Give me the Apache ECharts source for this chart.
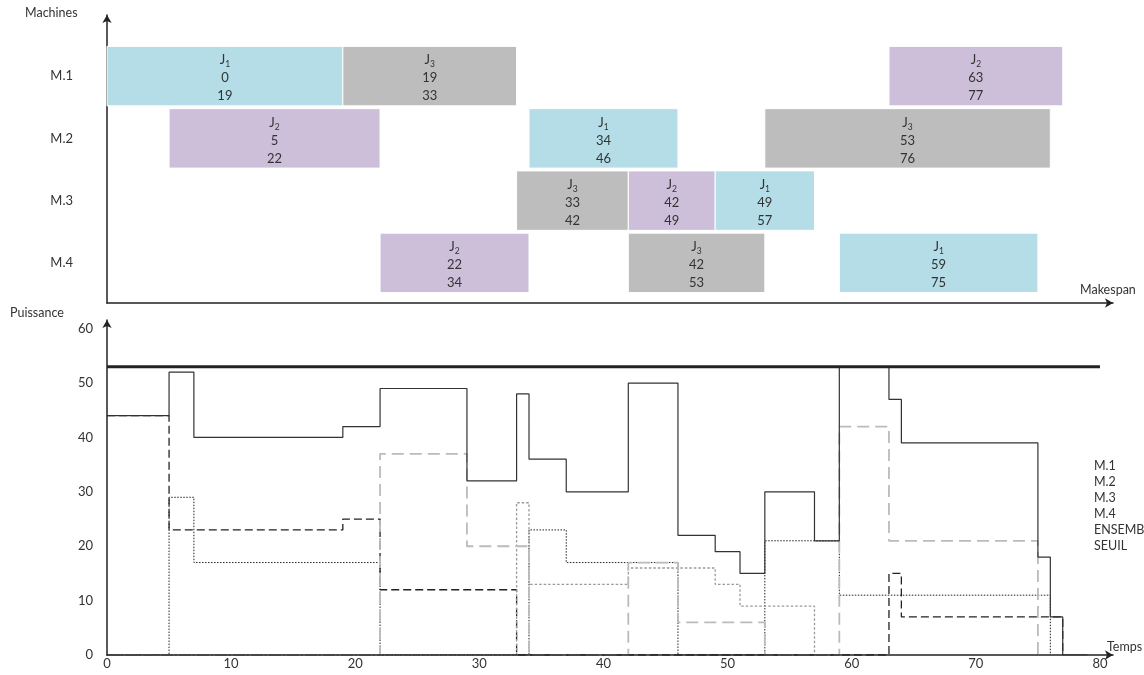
<!DOCTYPE html>
<html><head><meta charset="utf-8">
<script src="https://cdn.jsdelivr.net/npm/echarts/dist/echarts.min.js"></script>
<style>html,body{margin:0;padding:0;background:#fff}#c{width:1144px;height:675px}</style>
</head><body><div id="c"></div><script>
// ---- Gantt data ----
const machines = ['M.1','M.2','M.3','M.4'];
const opMachine = [0,0,0, 1,1,1, 2,2,2, 3,3,3];
const opJob     = [1,3,2, 2,1,3, 3,2,1, 2,3,1];
const opStart   = [0,19,63, 5,34,53, 33,42,49, 22,42,59];
const opEnd     = [19,33,77, 22,46,76, 42,49,57, 34,53,75];

// ---- Power data (step functions: value holds from time[i] to time[i+1]) ----
const m1Time  = [0,5,19,22,33,63,64,77];
const m1Power = [44,23,25,12,0,15,7,0];
const m2Time  = [0,5,7,22,34,37,46,53,59,76];
const m2Power = [0,29,17,0,23,17,0,21,11,0];
const m3Time  = [0,33,34,42,49,51,57];
const m3Power = [0,28,13,16,13,9,0];
const m4Time  = [0,22,29,34,42,46,53,59,63,75];
const m4Power = [0,37,20,0,17,6,0,42,21,0];
const totalTime  = [0,5,7,19,22,29,33,34,37,42,46,49,51,53,57,59,63,64,75,76,77,79];
const totalPower = [44,52,40,42,49,32,48,36,30,50,22,19,15,30,21,53,47,39,18,7,0,0];
const seuilTime  = [0,80];
const seuilPower = [53,53];
const xTicks = [0,10,20,30,40,50,60,70,80];
const yTicks = [0,10,20,30,40,50,60];
const legendNames = ['M.1','M.2','M.3','M.4','ENSEMBLE','SEUIL'];

// ---- styles ----
const FONT = 'Lato, "Open Sans", sans-serif';
const jobColors = {1:'#b4dde8', 2:'#cdbfd9', 3:'#bdbdbd'};
const AX = '#222';

const ganttData = opMachine.map((m,i)=>[m, opStart[i], opEnd[i], opJob[i]]);
const pairs = (t,v)=>t.map((x,i)=>[x, v[i]]);

const chart = echarts.init(document.getElementById('c'));
const XMAX = 81.05, YMAX = 61.6;

function renderOp(params, api){
  const cat = api.value(0), s = api.value(1), e = api.value(2), job = api.value(3);
  const p0 = api.coord([s, cat]);
  const p1 = api.coord([e, cat]);
  const h = api.size([0,1])[1] * 0.955;
  const x0 = p0[0], x1 = p1[0];
  return {
    type:'group',
    children:[
      {type:'rect', shape:{x:x0, y:p0[1]-h/2, width:x1-x0, height:h},
       style:{fill:jobColors[job], stroke:'#fff', lineWidth:1}},
      {type:'text', x:(x0+x1)/2, y:p0[1]+2,
       style:{text:'{j|J}{s|'+job+'}\n{n|'+s+'}\n{n|'+e+'}',
              align:'center', verticalAlign:'middle', fill:'#333',
              rich:{
                j:{fontSize:13, lineHeight:18, fontFamily:FONT, fill:'#333'},
                s:{fontSize:8.5, lineHeight:18, fontFamily:FONT, fill:'#333', verticalAlign:'bottom'},
                n:{fontSize:13, lineHeight:18, fontFamily:FONT, fill:'#333'}
              }}}
    ]
  };
}

const lineBase = {type:'line', step:'end', symbol:'none', xAxisIndex:2, yAxisIndex:2, animation:false};

const axisArrow = {show:true, symbol:['none','arrow'], symbolSize:[7,8], lineStyle:{color:AX, width:1.5}};

chart.setOption({
  animation:false,
  textStyle:{fontFamily:FONT},
  grid:[
    {left:107, width:1006, top:45, height:249},
    {left:107, width:1006, top:15, height:288},
    {left:107, width:1006, top:320, height:335}
  ],
  xAxis:[
    {gridIndex:0, type:'value', min:0, max:XMAX, show:false},
    {gridIndex:1, type:'value', min:0, max:XMAX, axisLine:axisArrow, axisTick:{show:false}, axisLabel:{show:false}, splitLine:{show:false}},
    {gridIndex:2, type:'value', min:0, max:XMAX, interval:10, z:5, axisLine:axisArrow, axisTick:{show:false},
     axisLabel:{margin:2, fontSize:13, color:'#333', fontFamily:FONT, showMaxLabel:false,
       formatter:v=> xTicks.indexOf(v)>=0 ? String(v) : ''},
     splitLine:{show:false}}
  ],
  yAxis:[
    {gridIndex:0, type:'category', data:machines, inverse:true, axisLine:{show:false}, axisTick:{show:false},
     axisLabel:{margin:34, fontSize:13, color:'#333', fontFamily:FONT}},
    {gridIndex:1, type:'value', min:0, max:1, axisLine:axisArrow, axisTick:{show:false}, axisLabel:{show:false}, splitLine:{show:false}},
    {gridIndex:2, type:'value', min:0, max:YMAX, interval:10, z:5, axisLine:axisArrow, axisTick:{show:false},
     axisLabel:{margin:14, fontSize:13, color:'#333', fontFamily:FONT, showMaxLabel:false,
       formatter:v=> yTicks.indexOf(v)>=0 ? String(v) : ''},
     splitLine:{show:false}}
  ],
  legend:{
    data:legendNames, orient:'vertical', left:1088, top:458, padding:0,
    itemWidth:0, itemHeight:0, itemGap:0, selectedMode:false,
    itemStyle:{opacity:0}, lineStyle:{opacity:0},
    textStyle:{fontSize:12.5, lineHeight:16, color:'#333', fontFamily:FONT}
  },
  graphic:[
    {type:'text', left:25, top:6, style:{text:'Machines', fontSize:12.5, fill:'#333', fontFamily:FONT}},
    {type:'text', left:1080, top:283, style:{text:'Makespan', fontSize:12.5, fill:'#333', fontFamily:FONT}},
    {type:'text', left:10, top:306, style:{text:'Puissance', fontSize:12.5, fill:'#333', fontFamily:FONT}},
    {type:'text', left:1107, top:640, style:{text:'Temps', fontSize:12.5, fill:'#333', fontFamily:FONT}}
  ],
  series:[
    {type:'custom', name:'gantt', xAxisIndex:0, yAxisIndex:0, renderItem:renderOp,
     encode:{x:[1,2], y:0}, data:ganttData, clip:false},
    Object.assign({}, lineBase, {name:'M.1', data:pairs(m1Time,m1Power), lineStyle:{color:'#222', width:1.3, type:[8,4]}, itemStyle:{color:'#222'}}),
    Object.assign({}, lineBase, {name:'M.2', data:pairs(m2Time,m2Power), lineStyle:{color:'#222', width:1, type:[1.5,1.5]}, itemStyle:{color:'#222'}}),
    Object.assign({}, lineBase, {name:'M.3', data:pairs(m3Time,m3Power), lineStyle:{color:'#999', width:1.3, type:[2.5,2]}, itemStyle:{color:'#999'}}),
    Object.assign({}, lineBase, {name:'M.4', data:pairs(m4Time,m4Power), lineStyle:{color:'#bbb', width:1.8, type:[12,6]}, itemStyle:{color:'#bbb'}}),
    Object.assign({}, lineBase, {name:'ENSEMBLE', data:pairs(totalTime,totalPower), lineStyle:{color:'#333', width:1.2}, itemStyle:{color:'#333'}}),
    Object.assign({}, lineBase, {name:'SEUIL', step:false, data:pairs(seuilTime,seuilPower), lineStyle:{color:'#222', width:3}, itemStyle:{color:'#222'}})
  ]
});
</script></body></html>
